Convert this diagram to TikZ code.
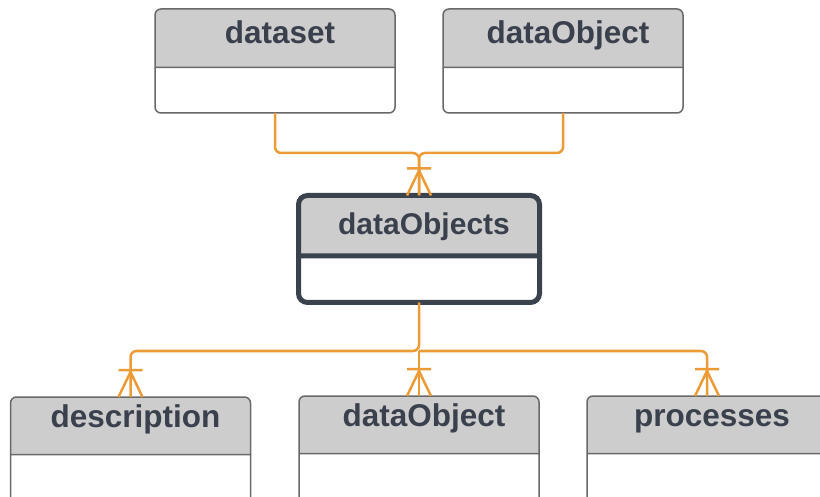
\documentclass[tikz,border=0pt]{standalone}
\usepackage{fontspec}
\setmainfont{Liberation Sans}
\usetikzlibrary{shapes.multipart}

\definecolor{headgray}{RGB}{205,205,205}
\definecolor{boxline}{RGB}{105,105,108}
\definecolor{darkline}{RGB}{58,66,78}
\definecolor{namecol}{RGB}{58,65,77}
\definecolor{linkorange}{RGB}{236,155,55}

\tikzset{
    entity/.style={rectangle split, rectangle split parts=2, draw=boxline, line width=1.5pt,
        rounded corners=6pt, rectangle split part fill={headgray,white},
        minimum width=240pt, inner xsep=0pt, inner ysep=0pt, outer sep=0pt,
        text=namecol, font=\fontsize{31.5}{36}\selectfont\bfseries},
    mainentity/.style={entity, draw=darkline, line width=5pt, rounded corners=9pt, minimum width=241pt,
        font=\fontsize{30}{36}\selectfont\bfseries},
    link/.style={draw=linkorange, line width=2.5pt, rounded corners=6pt},
    manyfoot/.pic={\draw[link, rounded corners=0pt] (-12,0) -- (0,-25) -- (12,0) (-12,-27) -- (12,-27);}
}

\begin{document}
\begin{tikzpicture}[x=1pt, y=-1pt]
    \useasboundingbox (0,0) rectangle (820,497);

    % top row
    \node[entity, anchor=north](dataset) at (275, 9)
        {\rule[-23pt]{0pt}{57pt}\hspace*{10pt}dataset \nodepart{two} \rule{0pt}{44pt}};
    \node[entity, anchor=north](dataObject up) at (563, 9)
        {\rule[-23pt]{0pt}{57pt}\hspace*{10pt}dataObject \nodepart{two} \rule{0pt}{44pt}};

    % middle
    \node[mainentity, anchor=north](dataObjects) at (419, 195.5)
        {\rule[-19pt]{0pt}{55.5pt}\hspace*{10pt}dataObjects \nodepart{two} \rule{0pt}{41.5pt}};

    % bottom row
    \node[entity, anchor=north](description) at (130.5, 397)
        {\rule[-26pt]{0pt}{56pt}\hspace*{10pt}description \nodepart{two} \rule{0pt}{50pt}};
    \node[entity, anchor=north](dataObject down) at (419, 396)
        {\rule[-26pt]{0pt}{56pt}\hspace*{10pt}dataObject \nodepart{two} \rule{0pt}{50pt}};
    \node[entity, anchor=north](processes) at (707, 396)
        {\rule[-26pt]{0pt}{56pt}\hspace*{10pt}processes \nodepart{two} \rule{0pt}{50pt}};

    \coordinate (top join) at (419, 153);
    \coordinate (bottom join) at (419, 351);

    \draw[link] (dataset.south) |- (top join) -- (dataObjects.north);
    \draw[link] (dataObject up.south) |- (top join) -- (dataObjects.north);
    \draw[link] (dataObjects.south) -- (bottom join) -| (description.north);
    \draw[link] (bottom join) -| (processes.north);
    \draw[link] (bottom join) -- (dataObject down.north);

    \pic at (dataObjects.north) {manyfoot};
    \pic at (description.north) {manyfoot};
    \pic at (dataObject down.north) {manyfoot};
    \pic at (processes.north) {manyfoot};
\end{tikzpicture}
\end{document}
